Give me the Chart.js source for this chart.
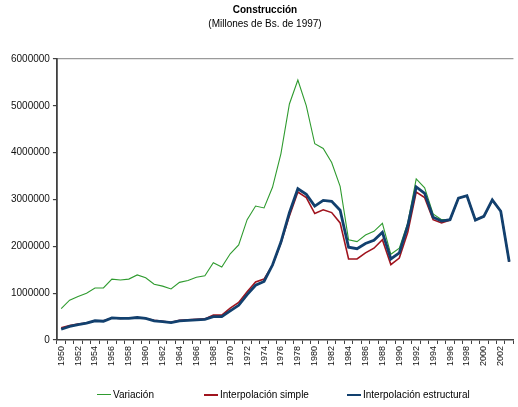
<!DOCTYPE html>
<html>
<head>
<meta charset="utf-8">
<script src="https://cdn.jsdelivr.net/npm/chart.js@4.4.1/dist/chart.umd.min.js"></script>
<style>
  html,body{margin:0;padding:0;background:#fff;overflow:hidden}
  #wrap{position:relative;width:522px;height:407px}
  .leg{position:absolute;top:389px;font:10px "Liberation Sans",Arial,sans-serif;color:#000;white-space:nowrap;display:flex;align-items:center}
  .leg i{display:inline-block;width:14px;margin-right:2px}
</style>
</head>
<body>
<div id="wrap">
  <canvas id="cons"></canvas>
  <div class="leg" style="left:97px"><i style="border-top:1px solid #2f9b2f"></i>Variación</div>
  <div class="leg" style="left:204px"><i style="border-top:2px solid #a0141e"></i>Interpolación simple</div>
  <div class="leg" style="left:347px"><i style="border-top:2.5px solid #12406e"></i>Interpolación estructural</div>
</div>
<script>
// Construcción (Millones de Bs. de 1997), 1950-2003
const years = [];
for (let y = 1950; y <= 2003; y++) years.push(String(y));

const variacion = [
  670000, 850000, 930000, 1000000, 1110000, 1110000, 1300000, 1280000, 1300000, 1390000,
  1330000, 1190000, 1150000, 1090000, 1230000, 1270000, 1340000, 1370000, 1650000, 1560000,
  1840000, 2030000, 2570000, 2860000, 2820000, 3260000, 3980000, 5040000, 5550000, 5000000,
  4190000, 4090000, 3790000, 3280000, 2140000, 2100000, 2240000, 2320000, 2490000, 1830000,
  1960000, 2500000, 3440000, 3250000, 2690000, 2570000, 2570000, 3030000, 3080000, 2560000,
  2640000, 2990000, 2750000, 1670000
];
const simple = [
  260000, 310000, 340000, 360000, 410000, 410000, 470000, 460000, 470000, 480000,
  460000, 420000, 400000, 380000, 420000, 430000, 440000, 450000, 530000, 530000,
  680000, 800000, 1030000, 1240000, 1300000, 1600000, 2070000, 2650000, 3160000, 3040000,
  2700000, 2780000, 2720000, 2500000, 1730000, 1730000, 1860000, 1960000, 2140000, 1610000,
  1750000, 2300000, 3160000, 3040000, 2570000, 2500000, 2560000, 3030000, 3080000, 2560000,
  2640000, 2990000, 2750000, 1670000
];
const estructural = [
  230000, 290000, 330000, 360000, 410000, 400000, 470000, 460000, 460000, 480000,
  460000, 410000, 390000, 370000, 410000, 420000, 430000, 440000, 500000, 500000,
  620000, 740000, 970000, 1170000, 1250000, 1600000, 2090000, 2720000, 3230000, 3110000,
  2860000, 2980000, 2960000, 2770000, 1980000, 1950000, 2060000, 2130000, 2300000, 1730000,
  1860000, 2440000, 3270000, 3130000, 2620000, 2540000, 2570000, 3030000, 3080000, 2560000,
  2640000, 2990000, 2750000, 1670000
];
const yTicks = [0, 1000000, 2000000, 3000000, 4000000, 5000000, 6000000];

const ff = '"Liberation Sans", Arial, sans-serif';
const ax = '#404040';

new Chart(document.getElementById('cons'), {
  type: 'line',
  data: { labels: years, datasets: [
    { label: 'Interpolación estructural', data: estructural, borderColor: '#12406e', borderWidth: 2.8, pointRadius: 0, tension: 0, order: 0 },
    { label: 'Interpolación simple', data: simple, borderColor: '#a0141e', borderWidth: 1.6, pointRadius: 0, tension: 0, order: 1 },
    { label: 'Variación', data: variacion, borderColor: '#2f9b2f', borderWidth: 1.1, pointRadius: 0, tension: 0, order: 2 },
  ]},
  options: {
    responsive: true, maintainAspectRatio: false, animation: false,
    layout: { padding: { left: 8, right: 0, top: 0, bottom: 39 } },
    plugins: {
      legend: { display: false },
      tooltip: { enabled: false },
      title: { display: true, text: 'Construcción', color: '#000', font: { family: ff, size: 10, weight: 'bold' }, padding: { top: 4, bottom: 2 } },
      subtitle: { display: true, text: '(Millones de Bs. de 1997)', color: '#000', font: { family: ff, size: 10 }, padding: { top: 0, bottom: 29 } }
    },
    scales: {
      x: {
        offset: true,
        grid: { offset: true, drawOnChartArea: false, tickLength: 4, tickColor: ax },
        border: { color: ax, width: 1.5 },
        ticks: { autoSkip: false, minRotation: 90, maxRotation: 90, padding: 2, color: '#111', font: { family: ff, size: 9 },
          callback: (v, i) => i % 2 === 0 ? years[i] : '' }
      },
      y: {
        min: 0, max: 6000000,
        afterBuildTicks: s => { s.ticks = yTicks.map(v => ({ value: v })); },
        grid: { color: c => c.tick && c.tick.value === 6000000 ? '#9a9a9a' : 'transparent', tickLength: 4, tickColor: ax, lineWidth: 1.2 },
        border: { color: ax, width: 1.8 },
        ticks: { padding: 3, color: '#111', font: { family: ff, size: 10 }, callback: v => String(v) }
      }
    }
  }
});
</script>
</body>
</html>
